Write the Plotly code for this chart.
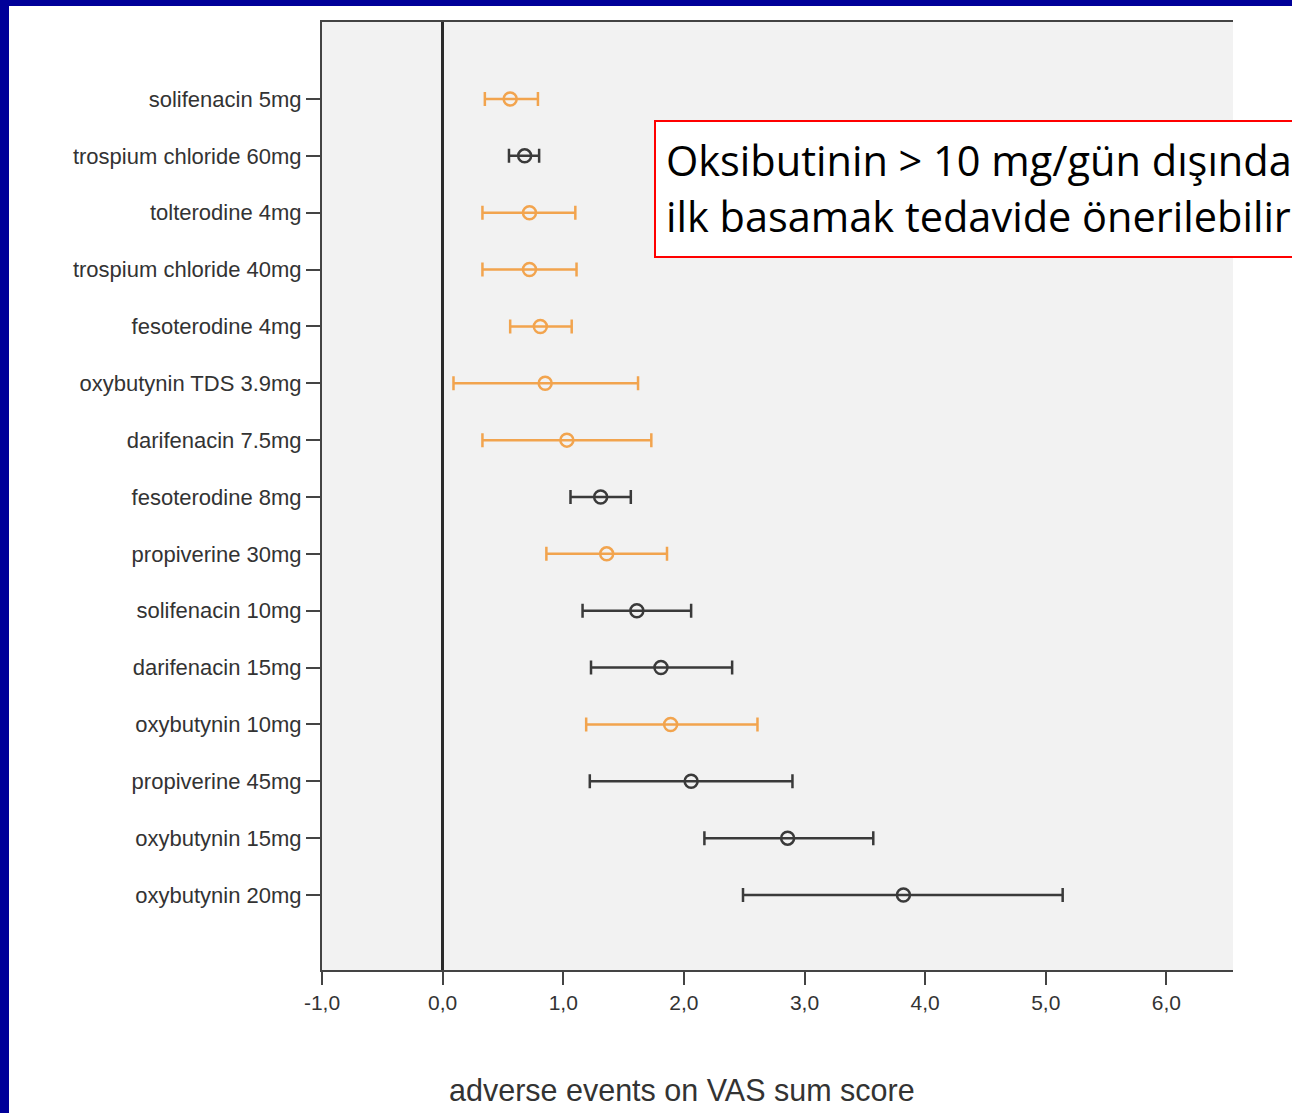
import plotly.graph_objects as go

# ---- data ----
drugs = [
    "solifenacin 5mg", "trospium chloride 60mg", "tolterodine 4mg",
    "trospium chloride 40mg", "fesoterodine 4mg", "oxybutynin TDS 3.9mg",
    "darifenacin 7.5mg", "fesoterodine 8mg", "propiverine 30mg",
    "solifenacin 10mg", "darifenacin 15mg", "oxybutynin 10mg",
    "propiverine 45mg", "oxybutynin 15mg", "oxybutynin 20mg",
]
means = [0.56, 0.68, 0.72, 0.72, 0.81, 0.85, 1.03, 1.31, 1.36,
         1.61, 1.81, 1.89, 2.06, 2.86, 3.82]
lows = [0.35, 0.55, 0.33, 0.33, 0.56, 0.09, 0.33, 1.06, 0.86,
        1.16, 1.23, 1.19, 1.22, 2.17, 2.49]
highs = [0.79, 0.80, 1.10, 1.11, 1.07, 1.62, 1.73, 1.56, 1.86,
         2.06, 2.40, 2.61, 2.90, 3.57, 5.14]
recommended = [True, False, True, True, True, True, True, False, True,
               False, False, True, False, False, False]

x_tick_vals = [-1, 0, 1, 2, 3, 4, 5, 6]
x_tick_text = ["-1,0", "0,0", "1,0", "2,0", "3,0", "4,0", "5,0", "6,0"]

x_title = "adverse events on VAS sum score"
note_line1 = "Oksibutinin > 10 mg/gün dışında"
note_line2 = "ilk basamak tedavide önerilebilir"

ORANGE = "#F2A44E"
DARK = "#3a3a3a"

W, H = 1292, 1113
L, R, T, B = 322, 59, 22, 143
PW, PH = W - L - R, H - T - B


def px(X):
    return (X - L) / PW


def py(Y):
    return (H - B - Y) / PH


fig = go.Figure()

for flag, color in [(True, ORANGE), (False, DARK)]:
    idx = [i for i, r in enumerate(recommended) if r == flag]
    fig.add_trace(go.Scatter(
        x=[means[i] for i in idx],
        y=[i for i in idx],
        mode="markers",
        marker=dict(symbol="circle-open", size=13, color=color,
                    line=dict(width=2.5, color=color)),
        error_x=dict(
            type="data", symmetric=False,
            array=[highs[i] - means[i] for i in idx],
            arrayminus=[means[i] - lows[i] for i in idx],
            color=color, thickness=2.5, width=7,
        ),
        showlegend=False,
        hoverinfo="skip",
    ))

fig.update_layout(
    width=W, height=H, autosize=False,
    margin=dict(l=L, r=R, t=T, b=B, pad=0),
    paper_bgcolor="white",
    plot_bgcolor="#f2f2f2",
    font=dict(family="Liberation Sans, Arial, sans-serif", color="#333333"),
    xaxis=dict(
        range=[-1.0, 6.552], tickvals=x_tick_vals, ticktext=x_tick_text,
        showgrid=False, zeroline=True, zerolinecolor="#2a2a2a", zerolinewidth=2.5,
        showline=True, linecolor="#444444", linewidth=2, mirror=True,
        ticks="outside", ticklen=13, tickwidth=2, tickcolor="#444444",
        tickfont=dict(size=21, color="#333333"),
    ),
    yaxis=dict(
        range=[15.319, -1.354], tickvals=list(range(len(drugs))), ticktext=drugs,
        showgrid=False, zeroline=False,
        showline=True, linecolor="#444444", linewidth=2,
        ticks="outside", ticklen=14, tickwidth=2, tickcolor="#444444",
        tickfont=dict(size=22, color="#333333"),
    ),
)

# axis title (offset to the left as in the reference)
fig.add_annotation(
    x=px(682), y=py(1090), xref="paper", yref="paper",
    text=x_title, showarrow=False, xanchor="center", yanchor="middle",
    font=dict(size=30.5, color="#333333", family="Liberation Sans, Arial, sans-serif"),
)

# note box
fig.add_shape(type="rect", xref="paper", yref="paper",
              x0=px(655), x1=px(1310), y0=py(257), y1=py(121),
              line=dict(color="#ff0000", width=2), fillcolor="white", layer="above")
for txt, yc in [(note_line1, 160), (note_line2, 216)]:
    fig.add_annotation(
        x=px(664), y=py(yc), xref="paper", yref="paper",
        text=txt, showarrow=False, xanchor="left", yanchor="middle",
        font=dict(size=41.5, color="black", family="Open Sans, Noto Sans, sans-serif"),
    )

# slide frame (dark blue edges)
fig.add_shape(type="rect", xref="paper", yref="paper",
              x0=px(-5), x1=px(9), y0=py(H + 5), y1=py(-5),
              line=dict(width=0), fillcolor="#000099", layer="above")
fig.add_shape(type="rect", xref="paper", yref="paper",
              x0=px(-5), x1=px(W + 5), y0=py(6), y1=py(-5),
              line=dict(width=0), fillcolor="#000099", layer="above")

fig.write_html("out.html", config={"displayModeBar": False},
               post_script="document.body.style.margin='0';document.body.style.overflow='hidden';")
